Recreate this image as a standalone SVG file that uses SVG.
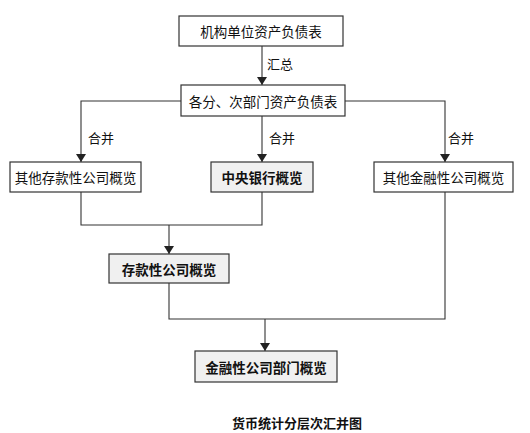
<svg xmlns="http://www.w3.org/2000/svg" width="530" height="433" viewBox="0 0 530 433">
<style>
.box{fill:#fff;stroke:#333;stroke-width:1.2}
.gbox{fill:#f0f0f0;stroke:#333;stroke-width:1.2}
.t{font-family:"Noto Sans CJK SC","Noto Sans",sans-serif;font-size:13.5px;fill:#111;text-anchor:middle;dominant-baseline:central}
.b{font-weight:bold}
.lbl{font-family:"Noto Sans CJK SC","Noto Sans",sans-serif;font-size:13px;fill:#111;dominant-baseline:central}
.ln{fill:none;stroke:#333;stroke-width:1.1}
</style>
<defs>
<marker id="arr" viewBox="0 0 8 10" refX="8" refY="5" markerWidth="8" markerHeight="10" markerUnits="userSpaceOnUse" orient="auto">
<path d="M0,0 L8,5 L0,10 Z" fill="#222"/>
</marker>
</defs>
<rect width="530" height="433" fill="#fff"/>
<g id="connectors">
<path class="ln" d="M262,46 V85" marker-end="url(#arr)"/>
<path class="ln" d="M181,101 H81 V162" marker-end="url(#arr)"/>
<path class="ln" d="M262,116 V162" marker-end="url(#arr)"/>
<path class="ln" d="M345,101 H445 V162" marker-end="url(#arr)"/>
<path class="ln" d="M81,192 V225 H262 V192"/>
<path class="ln" d="M169,225 V254" marker-end="url(#arr)"/>
<path class="ln" d="M169,283 V319 H445 V192"/>
<path class="ln" d="M265,319 V351" marker-end="url(#arr)"/>
<text class="lbl" x="267" y="63">汇总</text>
<text class="lbl" x="88" y="137">合并</text>
<text class="lbl" x="269" y="137">合并</text>
<text class="lbl" x="448" y="137">合并</text>
</g>
<g id="n1"><rect class="box" x="179" y="16" width="164" height="30"/><text class="t" x="261" y="31">机构单位资产负债表</text></g>
<g id="n2"><rect class="box" x="181" y="85" width="164" height="31"/><text class="t" x="263" y="100.5">各分、次部门资产负债表</text></g>
<g id="n3"><rect class="box" x="10" y="162" width="131" height="30"/><text class="t" x="75.5" y="177">其他存款性公司概览</text></g>
<g id="n4"><rect class="gbox" x="211" y="162" width="102" height="30"/><text class="t b" x="262" y="177">中央银行概览</text></g>
<g id="n5"><rect class="box" x="374" y="162" width="139" height="30"/><text class="t" x="443.5" y="177">其他金融性公司概览</text></g>
<g id="n6"><rect class="gbox" x="109" y="254" width="120" height="29"/><text class="t b" x="169" y="268.5">存款性公司概览</text></g>
<g id="n7"><rect class="gbox" x="195" y="351" width="142" height="31"/><text class="t b" x="266" y="366.5">金融性公司部门概览</text></g>
<text class="t b" x="297" y="422" style="font-size:13px">货币统计分层次汇并图</text>
</svg>
